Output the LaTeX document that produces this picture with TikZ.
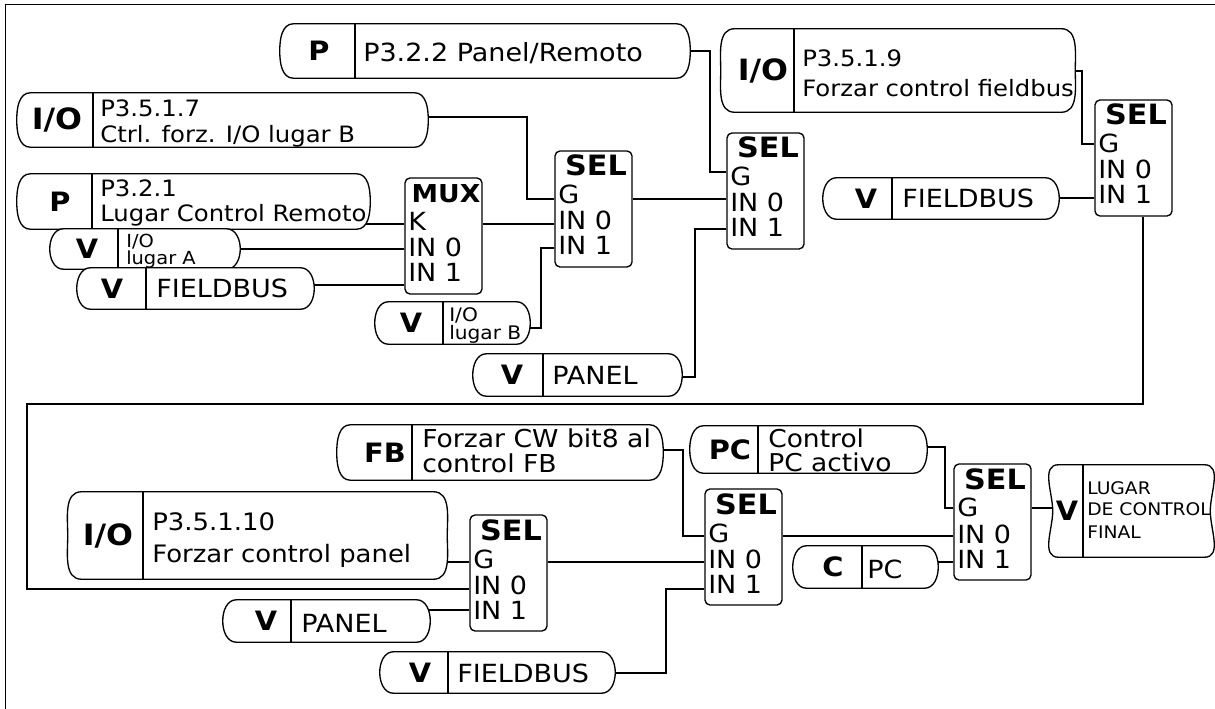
\documentclass[tikz,border=0pt]{standalone}
\usepackage{fontspec}
\setmainfont{DejaVu Sans}[FakeStretch=1.08]
\usetikzlibrary{fit}
\pgfdeclarelayer{back}
\pgfdeclarelayer{bg}
\pgfsetlayers{back,bg,main}
\tikzset{
  ln/.style={line width=1pt, line join=round},
  pillline/.style={ln, draw=black, fill=white},
  lbl/.style={inner sep=0pt, font=\fontsize{20}{22}\selectfont\bfseries},
  txt/.style={inner sep=0pt, anchor=base west},
  fbig/.style={font=\fontsize{18.75}{20}\selectfont},
  fmid/.style={font=\fontsize{16.9}{18}\selectfont},
  fsmall/.style={font=\fontsize{14}{15}\selectfont},
  ftiny/.style={font=\fontsize{13}{14}\selectfont},
  boxtitle/.style={inner sep=0pt, anchor=base, font=\fontsize{21}{22}\selectfont\bfseries},
  rowtxt/.style={txt, font=\fontsize{18.75}{20}\selectfont},
  conn/.style={line width=1pt, line join=miter}
}
\newcommand\iolbl{{\fontsize{22}{24}\selectfont I/O}}
\newcommand\tightpair[2]{\vbox{\baselineskip=12.5pt\lineskiplimit=-20pt\relax\lineskip=0pt\relax\hbox{#1}\hbox{#2}}}
\def\pillr{10.5pt}
% #1 name, #2 x1, #3 y1, #4 x2, #5 y2, #6 divider x, #7 label centre x, #8 label
\newcommand\pillshape[8]{%
  \node[fit={(#2,#3) (#4,#5)}, inner sep=0pt, draw=none] (#1) {};
  \path[pillline] ([xshift=\pillr]#1.north west) -- ([xshift=-\pillr]#1.north east)
     to[out=0,in=90] (#1.east) to[out=-90,in=0] ([xshift=-\pillr]#1.south east)
     -- ([xshift=\pillr]#1.south west) to[out=180,in=-90] (#1.west)
     to[out=90,in=180] cycle;
  \draw[ln] (#6,#3) -- (#6,#5);
  \node[lbl] (#1-l) at (#7,{(#3+#5)/2}) {#8};
}
% #1 name, #2 x, #3 y, #4 title, #5 first row
\newcommand\logicbox[5]{%
  \node[fit={(#2,#3) ({#2+77},{#3+116})}, inner sep=0pt, draw, fill=white,
        rounded corners=3.75pt, line width=1pt] (#1) {};
  \node[boxtitle] (#1-h) at ({#2+41},{#3+25}) {#4};
  \node[rowtxt] (#1-a) at ({#2+3},{#3+53}) {#5};
  \node[rowtxt] (#1-b) at ({#2+3},{#3+79}) {IN 0};
  \node[rowtxt] (#1-c) at ({#2+3},{#3+104}) {IN 1};
}
\begin{document}
\begin{tikzpicture}[x=0.75pt,y=-0.75pt]
\useasboundingbox (0,0) rectangle (1215,709);
\begin{pgfonlayer}{back}
\fill[white] (0,0) rectangle (1215,709);
\end{pgfonlayer}
\draw[line width=1pt] (5.5,709) -- (5.5,4.5) -- (1215,4.5);

% ---------- top part ----------
\pillshape{pA}{280}{24}{690}{78}{355}{319}{P}
\node[txt,fbig] (pA-t) at (363,62) {P3.2.2 Panel/Remoto};

\pillshape{pB}{17}{93}{428}{147}{93}{57}{\iolbl}
\node[txt,fmid] (pB-t1) at (100,117) {P3.5.1.7};
\node[txt,fmid] (pB-t2) at (100,143) {Ctrl. forz. I/O lugar B};

\pillshape{pC}{17}{174}{370}{229}{92}{60}{P}
\node[txt,fmid] (pC-t1) at (100,197) {P3.2.1};
\node[txt,fmid] (pC-t2) at (100,222) {Lugar Control Remoto};

\pillshape{pD}{50}{229}{240}{269}{118}{87}{V}
\node[inner sep=0pt, anchor=north west, font=\fontsize{13.5}{14}\selectfont] (pD-t) at (126,234) {\tightpair{I/O}{lugar A}};

\pillshape{pE}{77}{268}{314}{309}{146}{112}{V}
\node[txt,fbig] (pE-t) at (156,298) {FIELDBUS};

\pillshape{pLB}{375}{302}{530}{344}{443}{411}{V}
\node[txt,fsmall] (pLB-t1) at (449,322) {I/O};
\node[txt,fsmall] (pLB-t2) at (449,340) {lugar B};

\pillshape{pPt}{473}{354}{682}{396}{543}{512}{V}
\node[txt,fbig] (pPt-t) at (552,385) {PANEL};

\pillshape{pI9}{721}{29}{1075}{112}{794}{763}{\iolbl}
\node[txt,fmid] (pI9-t1) at (802,67) {P3.5.1.9};
\node[txt,fmid] (pI9-t2) at (802,97) {Forzar control fieldbus};

\pillshape{pFt}{823}{178}{1059}{219}{892}{866}{V}
\node[txt,fbig] (pFt-t) at (902,208) {FIELDBUS};

\logicbox{mux}{405}{178}{{\fontsize{18.5}{19}\selectfont MUX}}{K}
\logicbox{s1}{555}{151}{SEL}{G}
\logicbox{s2}{727}{133}{SEL}{G}
\logicbox{s3}{1095}{100}{SEL}{G}

% ---------- bottom part ----------
\pillshape{pFB}{337}{425}{663}{480}{412}{385}{FB}
\node[txt,font=\fontsize{18.5}{19}\selectfont] (pFB-t1) at (422,448) {Forzar CW bit8 al};
\node[txt,font=\fontsize{18.5}{19}\selectfont] (pFB-t2) at (422,473) {control FB};

\pillshape{pI10}{68}{492}{447}{579}{143}{108}{\iolbl}
\node[txt,font=\fontsize{18}{19}\selectfont] (pI10-t1) at (152,530) {P3.5.1.10};
\node[txt,font=\fontsize{18}{19}\selectfont] (pI10-t2) at (152,562) {Forzar control panel};

\pillshape{pPb}{223}{600}{430}{642}{291}{266}{V}
\node[txt,fbig] (pPb-t) at (301,632) {PANEL};

\pillshape{pFb}{380}{652}{615}{693}{448}{420}{V}
\node[txt,fbig] (pFb-t) at (457,682) {FIELDBUS};

\pillshape{pPC}{690}{426}{927}{473}{758}{730}{PC}
\node[txt,font=\fontsize{18.4}{19}\selectfont] (pPC-t1) at (768,448) {Control};
\node[txt,font=\fontsize{18.4}{19}\selectfont] (pPC-t2) at (768,472) {PC activo};

\pillshape{pC2}{793}{546}{938}{588}{862}{833}{C}
\node[txt,fbig] (pC2-t) at (867,578) {PC};

\def\pillr{4.5pt}
\pillshape{pL}{1053}{465}{1210}{557}{1083}{1067}{V}
\node[txt,ftiny] (pL-t1) at (1087,494) {LUGAR};
\node[txt,ftiny] (pL-t2) at (1087,516) {DE CONTROL};
\node[txt,ftiny] (pL-t3) at (1087,538) {FINAL};

\logicbox{s4}{470}{515}{SEL}{G}
\logicbox{s5}{705}{489}{SEL}{G}
\logicbox{s6}{954}{464}{SEL}{G}

% ---------- pins ----------
\coordinate (mk) at (mux.west |- 0,224);
\coordinate (m0) at (mux.west |- 0,249);
\coordinate (m1) at (mux.west |- 0,285);
\coordinate (mo) at (mux.east |- 0,224);
\coordinate (s1g) at (s1.west |- 0,199);
\coordinate (s10) at (s1.west |- 0,224);
\coordinate (s11) at (s1.west |- 0,248);
\coordinate (s1o) at (s1.east |- 0,199);
\coordinate (s2g) at (s2.west |- 0,172);
\coordinate (s20) at (s2.west |- 0,199);
\coordinate (s21) at (s2.west |- 0,229);
\coordinate (s3g) at (s3.west |- 0,144);
\coordinate (s31) at (s3.west |- 0,198);
\coordinate (s3o) at (1143,0 |- s3.south);
\coordinate (s4g) at (s4.west |- 0,562);
\coordinate (s40) at (s4.west |- 0,589);
\coordinate (s41) at (s4.west |- 0,610);
\coordinate (s4o) at (s4.east |- 0,562);
\coordinate (s5g) at (s5.west |- 0,536);
\coordinate (s50) at (s5.west |- 0,562);
\coordinate (s51) at (s5.west |- 0,589);
\coordinate (s5o) at (s5.east |- 0,536);
\coordinate (s6g) at (s6.west |- 0,508);
\coordinate (s60) at (s6.west |- 0,536);
\coordinate (s61) at (s6.west |- 0,562);
\coordinate (s6o) at (s6.east |- 0,508);

% ---------- connectors ----------
\begin{pgfonlayer}{bg}
\draw[conn] (pA.center) -| (710,0 |- s2g) -- (s2g);
\draw[conn] (pB.center |- 0,117) -| (527,0 |- s1g) -- (s1g);
\draw[conn] (pC.center |- mk) -- (mk);
\draw[conn] (pD.center |- m0) -- (m0);
\draw[conn] (pE.center |- m1) -- (m1);
\draw[conn] (mo) -- (s10);
\draw[conn] (pLB.center |- 0,328) -| (541,0 |- s11) -- (s11);
\draw[conn] (s1o) -- (s20);
\draw[conn] (pPt.center |- 0,377) -| (695,0 |- s21) -- (s21);
\draw[conn] (pI9.center |- 0,71) -| (1082,0 |- s3g) -- (s3g);
\draw[conn] (pFt.center |- s31) -- (s31);
\draw[conn] (s3o) |- (27,404) |- (s40);
\draw[conn] (pFB.center |- 0,450) -| (683,0 |- s5g) -- (s5g);
\draw[conn] (pI10.center |- s4g) -- (s4g);
\draw[conn] (pPb.center |- s41) -- (s41);
\draw[conn] (s4o) -- (s50);
\draw[conn] (pFb.center |- 0,673) -| (666,0 |- s51) -- (s51);
\draw[conn] (s5o) -- (s60);
\draw[conn] (pPC.center |- 0,447) -| (945,0 |- s6g) -- (s6g);
\draw[conn] (pC2.center |- s61) -- (s61);
\draw[conn] (s6o) -- (pL.center |- s6o);
\end{pgfonlayer}
\end{tikzpicture}
\end{document}
